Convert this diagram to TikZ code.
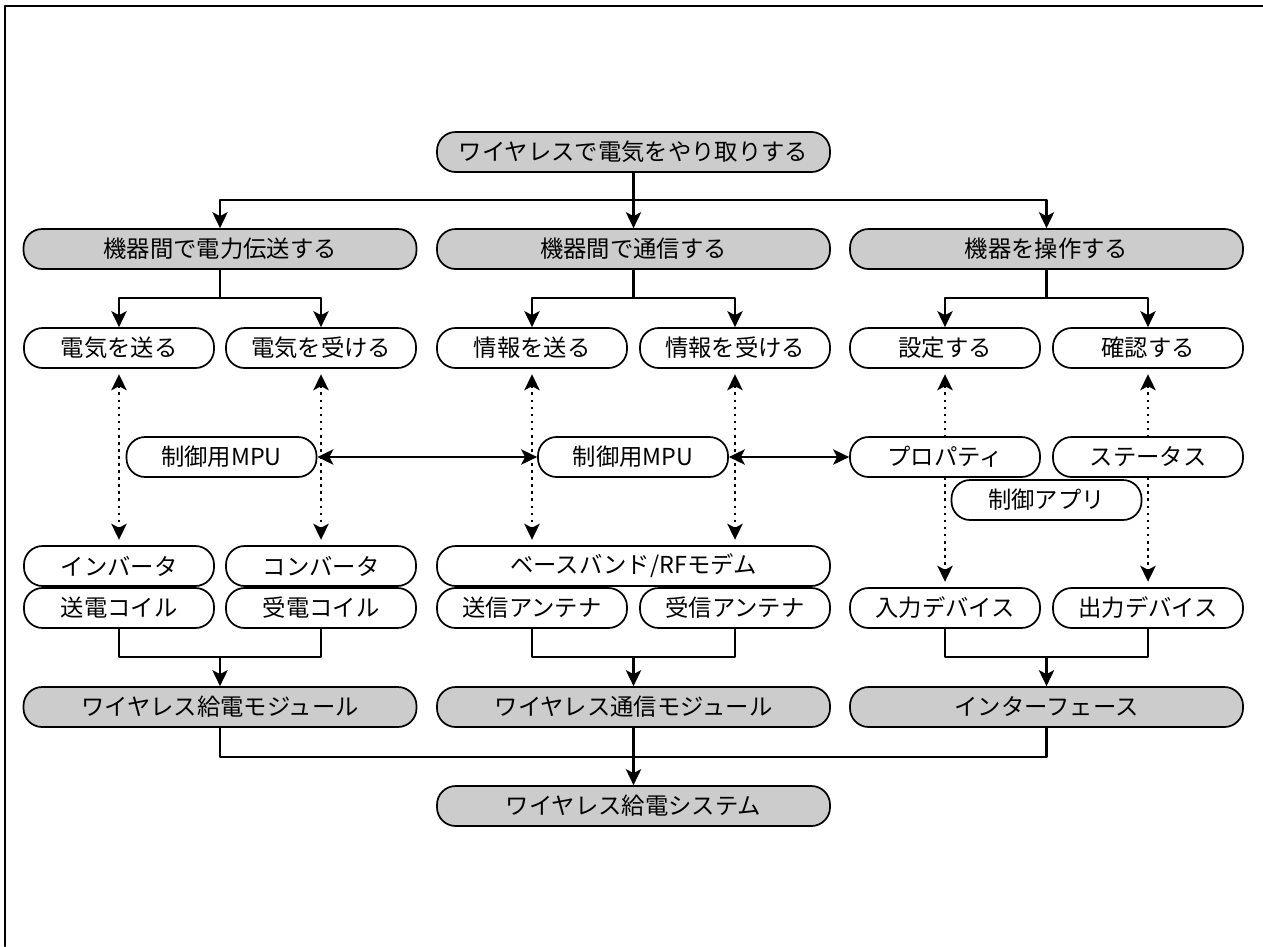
\documentclass[tikz,border=0pt]{standalone}
\usepackage{fontspec}
\setmainfont{Noto Sans CJK JP}
\usetikzlibrary{arrows.meta,backgrounds}
\definecolor{boxgray}{RGB}{204,204,204}
\tikzset{
  box/.style={draw,line width=1.3pt,rounded corners=14pt,minimum height=30pt,inner sep=0pt,fill=white},
  wide/.style={box,minimum width=294.75pt},
  narrow/.style={box,minimum width=142.5pt},
  grey/.style={fill=boxgray},
  link/.style={line width=1.7pt},
  dots/.style={line width=2pt,line cap=butt,dash pattern=on 2pt off 3.3pt,<->,shorten <=4pt,shorten >=4pt}
}
\begin{document}
\begin{tikzpicture}[line cap=round,line join=round,>={Stealth[length=12pt,width=11.5pt,inset=3pt]},x=0.75pt,y=-0.75pt,font=\fontsize{17.5pt}{21pt}\selectfont]
\useasboundingbox (0,0) rectangle (1263,946);
\draw [line width=1.5pt] (5,946) -- (5,6) -- (1263,6);
\node[wide,grey] (goal) at (633.5,152) {ワイヤレスで電気をやり取りする};
\node[wide,grey] (power) at (220,249) {機器間で電力伝送する};
\node[wide,grey] (comm) at (633.5,249) {機器間で通信する};
\node[wide,grey] (ctrl) at (1046.5,249) {機器を操作する};
\node[narrow] (sendE) at (119,348) {電気を送る};
\node[narrow] (recvE) at (321,348) {電気を受ける};
\node[narrow] (sendI) at (532,348) {情報を送る};
\node[narrow] (recvI) at (735,348) {情報を受ける};
\node[narrow] (setup) at (945,348) {設定する};
\node[narrow] (check) at (1148,348) {確認する};
\node[narrow] (mpuA) at (221.5,457) {制御用MPU};
\node[narrow] (mpuB) at (633,457) {制御用MPU};
\node[narrow] (prop) at (945,457) {プロパティ};
\node[narrow] (stat) at (1148,457) {ステータス};
\node[narrow] (app) at (1046.5,500) {制御アプリ};
\node[narrow] (inv) at (119,566) {インバータ};
\node[narrow] (conv) at (321,566) {コンバータ};
\node[wide] (modem) at (633.5,566) {ベースバンド/RFモデム};
\node[narrow] (coilS) at (119,608) {送電コイル};
\node[narrow] (coilR) at (321,608) {受電コイル};
\node[narrow] (antS) at (532,608) {送信アンテナ};
\node[narrow] (antR) at (735,608) {受信アンテナ};
\node[narrow] (inDev) at (945,608) {入力デバイス};
\node[narrow] (outDev) at (1148,608) {出力デバイス};
\node[wide,grey] (modP) at (220,707) {ワイヤレス給電モジュール};
\node[wide,grey] (modC) at (633.5,707) {ワイヤレス通信モジュール};
\node[wide,grey] (iface) at (1046.5,707) {インターフェース};
\node[wide,grey] (sys) at (633.5,806) {ワイヤレス給電システム};
\coordinate (splitTop) at (633.5,200);
\coordinate (splitP) at (220,298);
\coordinate (splitC) at (633.5,298);
\coordinate (splitO) at (1046.5,298);
\coordinate (joinP) at (220,657);
\coordinate (joinC) at (633.5,657);
\coordinate (joinI) at (1046.5,657);
\coordinate (joinS) at (633.5,757);
\draw [link,->] (goal.south) -- (comm.north);
\draw [link,->] (splitTop) -| (power.north);
\draw [link,->] (splitTop) -| (ctrl.north);
\draw [link] (power.south) -- (splitP);
\draw [link,->] (splitP) -| (sendE.north);
\draw [link,->] (splitP) -| (recvE.north);
\draw [link] (comm.south) -- (splitC);
\draw [link,->] (splitC) -| (sendI.north);
\draw [link,->] (splitC) -| (recvI.north);
\draw [link] (ctrl.south) -- (splitO);
\draw [link,->] (splitO) -| (setup.north);
\draw [link,->] (splitO) -| (check.north);
\begin{scope}[on background layer]
\draw [dots] (sendE.south) -- (inv.north);
\draw [dots] (recvE.south) -- (conv.north);
\draw [dots] (sendI.south) -- (modem.north -| sendI.south);
\draw [dots] (recvI.south) -- (modem.north -| recvI.south);
\draw [dots] (setup.south) -- (inDev.north);
\draw [dots] (check.south) -- (outDev.north);
\end{scope}
\draw [link,<->] (mpuA.east) -- (mpuB.west);
\draw [link,<->] (mpuB.east) -- (prop.west);
\draw [link] (coilS.south) |- (joinP) -| (coilR.south);
\draw [link,->] (joinP) -- (modP.north);
\draw [link] (antS.south) |- (joinC) -| (antR.south);
\draw [link,->] (joinC) -- (modC.north);
\draw [link] (inDev.south) |- (joinI) -| (outDev.south);
\draw [link,->] (joinI) -- (iface.north);
\draw [link] (modP.south) |- (joinS) -| (iface.south);
\draw [link,->] (modC.south) -- (sys.north);
\end{tikzpicture}
\end{document}
